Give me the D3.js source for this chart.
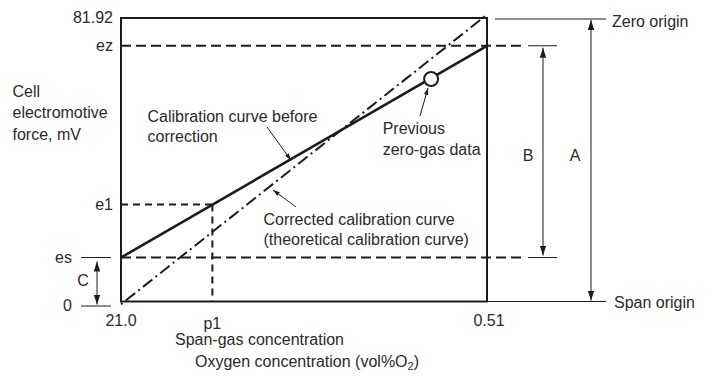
<!DOCTYPE html>
<html>
<head>
<meta charset="utf-8">
<script src="https://cdn.jsdelivr.net/npm/d3@7"></script>
<style>
  html, body { margin: 0; padding: 0; background: #fff; }
  svg { display: block; font-family: "Liberation Sans", Arial, sans-serif; }
</style>
</head>
<body>
<svg id="chart" width="713" height="376"></svg>
<script>
// Oxygen concentration marks on the horizontal axis (vol%O2)
const xTickValues = [21.0, 8.3, 0.51];
const xTickLabels = ["21.0", "p1", "0.51"];

// Cell electromotive force levels (mV)
const yTickValues = [0, 12.7, 28.0, 73.9, 81.92];
const yTickLabels = ["0", "es", "e1", "ez", "81.92"];

// Calibration curve before correction: oxygen % -> EMF mV
const beforeCurveX = [21.0, 0.51];
const beforeCurveY = [12.7, 73.9];

// Corrected (theoretical) calibration curve
const correctedCurveX = [21.0, 0.51];
const correctedCurveY = [-0.8, 82.9];

// Previous zero-gas reading [oxygen %, EMF mV]
const previousZeroGas = [0.90, 64.3];

const INK = "#1c1c1c";
const TEXT = "#2a2a2a";

const svg = d3.select("#chart");

const x = d3.scaleLog().domain([21.0, 0.51]).range([121, 487]);
const y = d3.scaleLinear().domain([0, 81.92]).range([301.5, 18]);

const [yZero, yEs, yE1, yEz, yTop] = yTickValues;
const [xLeft, xP1, xRight] = xTickValues;
const x0 = x(xLeft), x1 = x(xRight);

// arrowhead markers
const defs = svg.append("defs");
function marker(id, len, wid) {
  defs.append("marker")
    .attr("id", id)
    .attr("viewBox", `0 0 ${len} ${wid}`)
    .attr("refX", len).attr("refY", wid / 2)
    .attr("markerWidth", len).attr("markerHeight", wid)
    .attr("markerUnits", "userSpaceOnUse")
    .attr("orient", "auto-start-reverse")
    .append("path")
    .attr("d", `M0,0L${len},${wid / 2}L0,${wid}Z`)
    .attr("fill", INK);
}
marker("dim", 10, 6.5);
marker("ptr", 7, 4.5);

const g = svg.append("g");

function seg(x1_, y1_, x2_, y2_, w, dash) {
  const l = g.append("line")
    .attr("x1", x1_).attr("y1", y1_).attr("x2", x2_).attr("y2", y2_)
    .attr("stroke", INK).attr("stroke-width", w);
  if (dash) l.attr("stroke-dasharray", dash);
  return l;
}

// es and ez reference levels extending past the plot
[yEs, yEz].forEach(v => {
  seg(x0, y(v), x1 + 37, y(v), 2, "10,5");
  seg(x1 + 41, y(v), x1 + 70, y(v), 1);
});

// short left ticks for es and 0
seg(x0 - 40, y(yEs), x0 - 10, y(yEs), 1);
seg(x0 - 40, y(yZero) + 4.5, x0 - 10, y(yZero) + 4.5, 1);

// span-gas reading: e1 / p1 guides
seg(x0, y(yE1), x(xP1), y(yE1), 2, "7,5");
seg(x(xP1), y(yE1), x(xP1), y(yZero), 2, "7,5");

// zero / span origin lines
seg(x1 + 8, y(yTop) + 1, x1 + 119, y(yTop) + 1, 1);
seg(x1, y(yZero), x1 + 119, y(yZero), 1);

// plot frame
g.append("rect")
  .attr("x", x0).attr("y", y(yTop))
  .attr("width", x1 - x0).attr("height", y(yZero) - y(yTop))
  .attr("fill", "none").attr("stroke", INK).attr("stroke-width", 2);

// curves
const line = d3.line().x(d => x(d[0])).y(d => y(d[1]));
g.append("path")
  .attr("d", line(d3.zip(correctedCurveX, correctedCurveY)))
  .attr("fill", "none").attr("stroke", INK).attr("stroke-width", 2)
  .attr("stroke-dasharray", "2,4,12,4");
g.append("path")
  .attr("d", line(d3.zip(beforeCurveX, beforeCurveY)))
  .attr("fill", "none").attr("stroke", INK).attr("stroke-width", 2.6);

// previous zero-gas data marker
g.append("circle")
  .attr("cx", x(previousZeroGas[0])).attr("cy", y(previousZeroGas[1]))
  .attr("r", 7).attr("fill", "#fff").attr("stroke", INK).attr("stroke-width", 2);

// dimension arrows A, B, C
seg(x1 + 104, y(yTop) + 2, x1 + 104, y(yZero) - 1, 1)
  .attr("marker-start", "url(#dim)").attr("marker-end", "url(#dim)");
seg(x1 + 56, y(yEz) + 2, x1 + 56, y(yEs) - 2, 1)
  .attr("marker-start", "url(#dim)").attr("marker-end", "url(#dim)");
seg(x0 - 24, y(yEs) + 4, x0 - 24, y(yZero) + 3, 1)
  .attr("marker-start", "url(#dim)").attr("marker-end", "url(#dim)");

// pixel position on each curve at a given horizontal pixel
function curveAt(xs, ys, px) {
  const ax = x(xs[0]), bx = x(xs[1]), ay = y(ys[0]), by = y(ys[1]);
  return ay + (by - ay) * (px - ax) / (bx - ax);
}

// annotation pointers
seg(267, 127, 291, curveAt(beforeCurveX, beforeCurveY, 291) + 1, 1)
  .attr("marker-end", "url(#ptr)");
seg(420, 116, 428, y(previousZeroGas[1]) + 9, 1)
  .attr("marker-end", "url(#ptr)");
seg(296, 207, 273, curveAt(correctedCurveX, correctedCurveY, 273) + 6, 1)
  .attr("marker-end", "url(#ptr)");

// text
function txt(s, tx, ty, anchor) {
  return svg.append("text")
    .attr("x", tx).attr("y", ty)
    .attr("text-anchor", anchor || "start")
    .attr("font-size", 16).attr("fill", TEXT)
    .text(s);
}

// vertical level labels
yTickValues.forEach((v, i) => {
  const outer = (yTickLabels[i] === "es" || yTickLabels[i] === "0");
  const ty = y(v) + (yTickLabels[i] === "0" ? 4.5 : 0) + 5;
  txt(yTickLabels[i], outer ? x0 - 49 : x0 - 8, ty, "end");
});

// horizontal axis labels
xTickValues.forEach((v, i) => {
  txt(xTickLabels[i], x(v) + (i === 2 ? 2 : 0), i === 1 ? 329 : 326, "middle");
});

txt("Span-gas concentration", 175, 345);
const ox = txt("Oxygen concentration (vol%O", 195, 367);
ox.append("tspan").attr("font-size", 11).attr("dy", 3).text("2");
ox.append("tspan").attr("dy", -3).text(")");

txt("Cell", 12.5, 96.7);
txt("electromotive", 12.5, 118.3);
txt("force, mV", 12.5, 139.8);

txt("Calibration curve before", 147.5, 121.7);
txt("correction", 147.5, 141.7);

txt("Previous", 382.7, 134);
txt("zero-gas data", 382.7, 154.5);

txt("Corrected calibration curve", 263.5, 224.5);
txt("(theoretical calibration curve)", 263.5, 245);

txt("B", x1 + 41, 161, "middle");
txt("A", x1 + 88, 161, "middle");
txt("C", x0 - 38, 286, "middle");

txt("Zero origin", x1 + 125, 26.5);
txt("Span origin", x1 + 127, 307.5);
</script>
</body>
</html>
